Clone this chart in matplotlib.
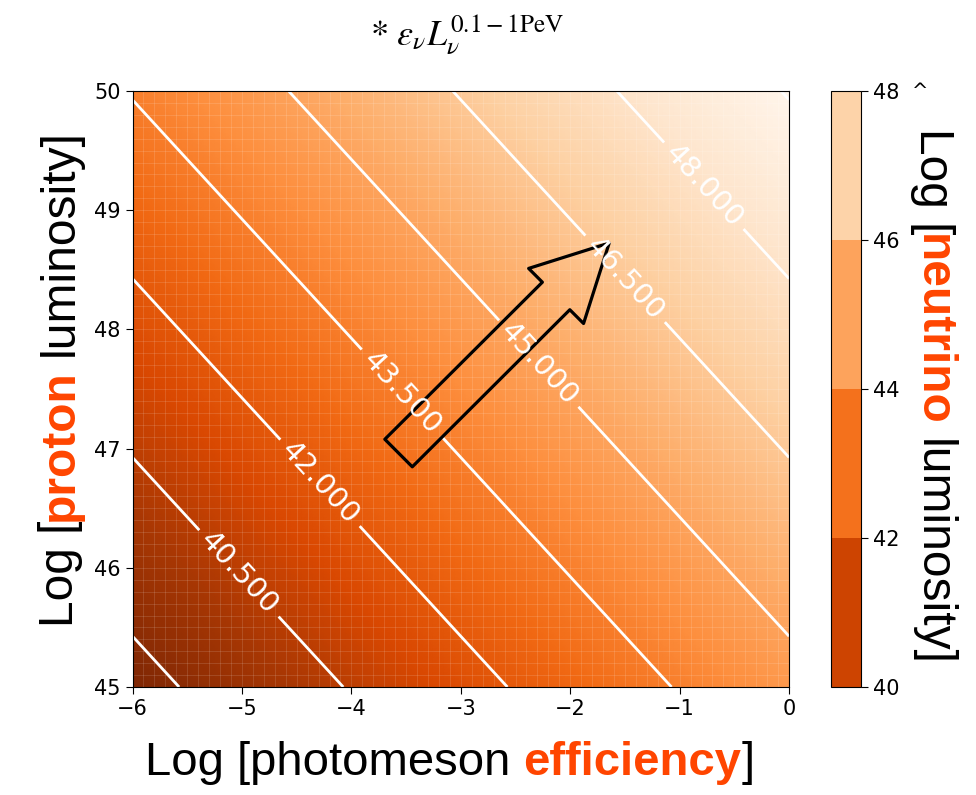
import numpy as np
import matplotlib
matplotlib.use("Agg")
import matplotlib.pyplot as plt
from matplotlib import font_manager as fm
from matplotlib.colors import Normalize
from matplotlib.cm import ScalarMappable

plt.rcParams['mathtext.fontset'] = 'stix'

# axes of the map (log10 values)
log_eff = np.linspace(-6, 0, 121)        # photomeson efficiency
log_Lp = np.linspace(45, 50, 101)        # proton luminosity
nu_frac = 3.0 / 8.0                      # neutrino share of the pion energy
edge_levels = [39, 49.5]                 # unlabelled contours
label_levels = [40.5, 42, 43.5, 45, 46.5, 48]
cbar_bounds = [40, 42, 44, 46, 48]
xticks = [-6, -5, -4, -3, -2, -1, 0]
yticks = [45, 46, 47, 48, 49, 50]
# where the contour labels sit
label_pos = [(-5.02, 45.96), (-4.29, 46.71), (-3.54, 47.47),
             (-2.28, 47.72), (-1.48, 48.44), (-0.75, 49.23)]
arrow_tail = (-3.569, 46.963)
arrow_tip = (-1.644, 48.725)

X, Y = np.meshgrid(log_eff, log_Lp)
L_nu = np.log10(nu_frac) + X + Y

W, H = 976, 795
fig = plt.figure(figsize=(W / 100, H / 100), dpi=100)
ax = fig.add_axes([0.1358, 0.1358, 0.6727, 0.7497])
cax = fig.add_axes([0.8514, 0.1358, 0.0307, 0.7497])

cmap = plt.get_cmap('Oranges_r')
norm = Normalize(vmin=L_nu.min(), vmax=L_nu.max())
ax.pcolormesh(X, Y, L_nu, cmap=cmap, norm=norm, shading='gouraud')

# faint mesh seams
ax.vlines(log_eff[::2], 45, 50, color='white', alpha=0.13, lw=0.7)
ax.hlines(log_Lp[::2], -6, 0, color='white', alpha=0.13, lw=0.7)

ax.contour(X, Y, L_nu, levels=edge_levels, colors='white', linewidths=2.0)
cs = ax.contour(X, Y, L_nu, levels=label_levels, colors='white', linewidths=2.0)
ax.clabel(cs, fmt='%.3f', fontsize=21, colors='white', manual=label_pos,
          inline=True, inline_spacing=8)

ax.annotate('', xy=arrow_tip, xytext=arrow_tail,
            arrowprops=dict(arrowstyle='simple,head_length=1.08,head_width=1.12,tail_width=0.56',
                            mutation_scale=50, fc='none', ec='black', lw=2.3,
                            shrinkA=0, shrinkB=0))

ax.set_xlim(-6, 0)
ax.set_ylim(45, 50)
ax.set_xticks(xticks)
ax.set_yticks(yticks)
ax.tick_params(labelsize=15, length=5)

sm = ScalarMappable(norm=norm, cmap=cmap)
mids = [(a + b) / 2 for a, b in zip(cbar_bounds[:-1], cbar_bounds[1:])]
cb = fig.colorbar(sm, cax=cax, boundaries=cbar_bounds, values=mids)
cb.set_ticks(cbar_bounds)
cb.ax.tick_params(labelsize=15, length=5)
fig.text(912 / W, 1 - 92 / H, '^', fontsize=14, ha='left', va='center')

fig.text(467 / W, 1 - 44 / H, r'$*\ \varepsilon_\nu L_\nu^{0.1-1\mathrm{PeV}}$',
         fontsize=26, ha='center', va='baseline')

# multi-colour axis labels
try:
    fm.findfont(fm.FontProperties(family='Liberation Sans Narrow'), fallback_to_default=False)
    narrow, left_size = 'Liberation Sans Narrow', 43
except Exception:
    narrow, left_size = 'Liberation Sans', 34.5

renderer = fig.canvas.get_renderer()


def rich_label(x0, y0, pieces, size, rotation, family):
    space = 0.2778 * size * 100 / 72
    pos = 0.0
    for s, weight, color in pieces:
        pos += (len(s) - len(s.lstrip(' '))) * space
        word = s.strip(' ')
        if rotation == 0:
            x, y = x0 + pos, y0
        elif rotation == 90:
            x, y = x0, y0 + pos
        else:
            x, y = x0, y0 - pos
        t = fig.text(x / W, y / H, word, rotation=rotation, rotation_mode='anchor',
                     ha='left', va='baseline', fontsize=size, fontweight=weight,
                     color=color, family=family)
        bb = t.get_window_extent(renderer)
        pos += bb.width if rotation == 0 else bb.height
        pos += (len(s) - len(s.rstrip(' '))) * space


red = 'orangered'
rich_label(145, H - 775, [('Log [photomeson ', 'normal', 'black'),
                          ('efficiency', 'bold', red),
                          (']', 'normal', 'black')], 34, 0, 'Liberation Sans')
rich_label(73, H - 627, [('Log [', 'normal', 'black'),
                         ('proton', 'bold', red),
                         (' luminosity]', 'normal', 'black')], left_size, 90, narrow)
rich_label(920, H - 128, [('Log [', 'normal', 'black'),
                          ('neutrino', 'bold', red),
                          (' luminosity]', 'normal', 'black')], 34.5, 270, 'Liberation Sans')

fig.savefig('out.png', dpi=100)
